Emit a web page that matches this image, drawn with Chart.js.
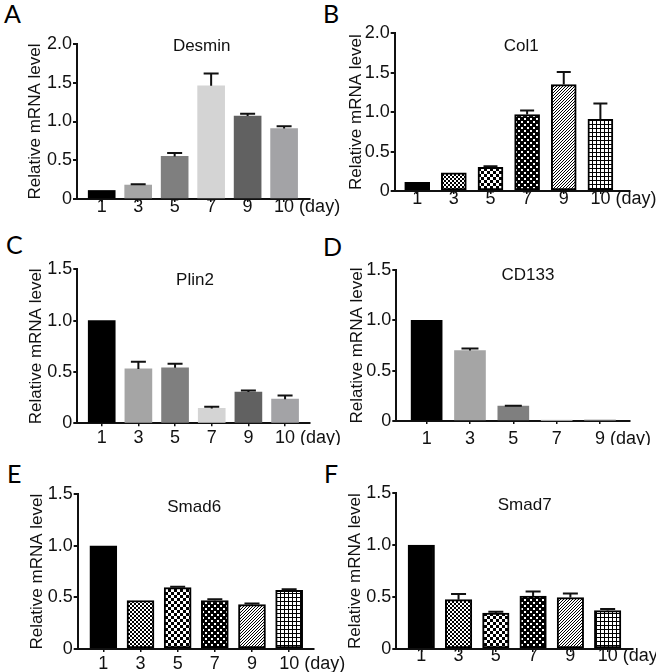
<!DOCTYPE html>
<html>
<head>
<meta charset="utf-8">
<script src="https://cdn.jsdelivr.net/npm/chart.js@4.4.1/dist/chart.umd.min.js"></script>
<style>
  body { margin: 0; background: #fff; }
  #fig { position: relative; width: 656px; height: 672px; overflow: hidden; }
  #fig canvas { position: absolute; }
  .tag { position: absolute; font-family: Lato, "Open Sans", sans-serif; font-size: 25px; line-height: 1; color: #000; }
</style>
</head>
<body>
<div id="fig">
  <div class="tag" style="left:4px;top:1px">A</div>
  <div class="tag" style="left:323px;top:1px">B</div>
  <div class="tag" style="left:6px;top:232px">C</div>
  <div class="tag" style="left:323px;top:234px">D</div>
  <div class="tag" style="left:7px;top:461px">E</div>
  <div class="tag" style="left:324px;top:461px">F</div>
  <canvas id="cA"></canvas>
  <canvas id="cB"></canvas>
  <canvas id="cC"></canvas>
  <canvas id="cD"></canvas>
  <canvas id="cE"></canvas>
  <canvas id="cF"></canvas>
</div>
<script>
// days on the x axis
const days6 = ["1", "3", "5", "7", "9", "10"];
const days5 = ["1", "3", "5", "7", "9"];

// y tick labels
const ticksTo2 = ["0", "0.5", "1.0", "1.5", "2.0"];
const ticksTo15 = ["0", "0.5", "1.0", "1.5"];

// mean values and SD
const desmin = [0.11, 0.18, 0.55, 1.46, 1.07, 0.91];
const desminSd = [0, 0.01, 0.045, 0.16, 0.03, 0.03];

const col1 = [0.11, 0.23, 0.30, 0.97, 1.35, 0.91];
const col1Sd = [0, 0, 0.015, 0.05, 0.16, 0.2];

const plin2 = [1.0, 0.53, 0.54, 0.145, 0.305, 0.235];
const plin2Sd = [0, 0.07, 0.04, 0.015, 0.015, 0.035];

const cd133 = [1.0, 0.70, 0.148, 0.005, 0.002];
const cd133Sd = [0, 0.02, 0.004, 0, 0];

const smad6 = [1.0, 0.47, 0.595, 0.47, 0.43, 0.57];
const smad6Sd = [0, 0, 0.008, 0.012, 0.012, 0.01];

const smad7 = [1.0, 0.475, 0.345, 0.51, 0.495, 0.37];
const smad7Sd = [0, 0.055, 0.015, 0.045, 0.04, 0.015];

// fills
const grays = ["#000000", "#a5a5a5", "#7f7f7f", "#d4d4d4", "#616161", "#a3a3a6"];

function pat(size, bg, draw) {
  const c = document.createElement("canvas");
  c.width = c.height = size;
  const g = c.getContext("2d");
  g.fillStyle = bg;
  g.fillRect(0, 0, size, size);
  draw(g, size);
  return g.createPattern(c, "repeat");
}

const pFine = pat(4, "#fff", (g) => {
  g.fillStyle = "#000";
  g.fillRect(0, 0, 2, 2);
  g.fillRect(2, 2, 2, 2);
});
const pCheck = pat(6, "#fff", (g) => {
  g.fillStyle = "#000";
  g.fillRect(0, 0, 3, 3);
  g.fillRect(3, 3, 3, 3);
});
// black with white dots on a diagonal lattice
const pDots = pat(6, "#000", (g) => {
  g.fillStyle = "#fff";
  g.fillRect(1, 1, 2, 2);
  g.fillRect(4, 4, 2, 2);
});
const pDiag = pat(3, "#fff", (g, s) => {
  g.fillStyle = "#000";
  for (let i = 0; i < s; i++) g.fillRect(i, s - 1 - i, 1, 1);
});
const pGrid = pat(4, "#fff", (g) => {
  g.fillStyle = "#000";
  g.fillRect(0, 0, 4, 1);
  g.fillRect(0, 0, 1, 4);
});
const patterns = ["#000000", pFine, pCheck, pDots, pDiag, pGrid];

const FONT = '"Liberation Sans", Arial, sans-serif';
Chart.defaults.font.family = FONT;
Chart.defaults.font.size = 18;
Chart.defaults.color = "#111";

// error bars (mean + SD)
const errPlugin = {
  id: "errbars",
  afterDatasetsDraw(chart, args, opts) {
    const { ctx, scales: { x, y } } = chart;
    ctx.save();
    ctx.strokeStyle = "#111";
    ctx.lineWidth = 2;
    chart.data.datasets[0].data.forEach((p, i) => {
      const sd = opts.sd[i];
      if (!sd) return;
      const px = x.getPixelForValue(p.x);
      const y0 = y.getPixelForValue(p.y);
      const y1 = y.getPixelForValue(p.y + sd);
      ctx.beginPath();
      ctx.moveTo(px, y0);
      ctx.lineTo(px, y1);
      ctx.moveTo(px - opts.cap / 2, y1);
      ctx.lineTo(px + opts.cap / 2, y1);
      ctx.stroke();
    });
    ctx.restore();
  }
};

// gene name and "(day)" after the last tick label
const textPlugin = {
  id: "paneltext",
  afterDraw(chart, args, opts) {
    const { ctx, chartArea, scales: { x } } = chart;
    ctx.save();
    ctx.fillStyle = "#111";
    ctx.textBaseline = "middle";
    ctx.textAlign = "center";
    ctx.font = "17px " + FONT;
    ctx.fillText(opts.title, chartArea.left + opts.dx, chartArea.top + opts.dy);
    ctx.font = "18px " + FONT;
    const last = opts.days.length - 1;
    const lx = x.getPixelForValue(last) + ctx.measureText(opts.days[last]).width / 2 + 5;
    ctx.textAlign = "left";
    ctx.fillText("(day)", lx, chartArea.bottom + opts.labelOff);
    ctx.restore();
  }
};

const panels = [
  { id: "cA", title: "Desmin", days: days6, values: desmin, sd: desminSd, yMax: 2, yLabels: ticksTo2,
    fill: grays, border: 0, box: [0, 0, 350, 225], axisX: 77, topY: 44, bottomY: 199, rightX: 310,
    xMin: -0.677, xMax: 5.71, bar: 27, yTitleX: 35, labelOff: 8.5, dx: 124.7, dy: 2.7 },
  { id: "cB", title: "Col1", days: days6, values: col1, sd: col1Sd, yMax: 2, yLabels: ticksTo2,
    fill: patterns, border: 2, box: [328, 0, 328, 225], axisX: 394.7, topY: 33.3, bottomY: 191, rightX: 629.7,
    xMin: -0.614, xMax: 5.8, bar: 25, yTitleX: 28.3, labelOff: 8, dx: 126.6, dy: 13.4 },
  { id: "cC", title: "Plin2", days: days6, values: plin2, sd: plin2Sd, yMax: 1.5, yLabels: ticksTo15,
    fill: grays, border: 0, box: [0, 225, 350, 220], axisX: 77.3, topY: 269.3, bottomY: 423.3, rightX: 310,
    xMin: -0.666, xMax: 5.68, bar: 27, yTitleX: 36.7, labelOff: 15, dx: 117.7, dy: 11.5 },
  { id: "cD", title: "CD133", days: days5, values: cd133, sd: cd133Sd, yMax: 1.5, yLabels: ticksTo15,
    fill: grays, border: 0, box: [328, 225, 328, 220], axisX: 396.3, topY: 270, bottomY: 421, rightX: 629.7,
    xMin: -0.70, xMax: 4.685, bar: 31, yTitleX: 29, labelOff: 18, dx: 131.7, dy: 5.8 },
  { id: "cE", title: "Smad6", days: days6, values: smad6, sd: smad6Sd, yMax: 1.5, yLabels: ticksTo15,
    fill: patterns, border: 2, box: [0, 445, 350, 227], axisX: 77.7, topY: 494.3, bottomY: 649, rightX: 313.3,
    xMin: -0.69, xMax: 5.65, bar: 27, yTitleX: 37.5, labelOff: 15, dx: 116.5, dy: 13.2 },
  { id: "cF", title: "Smad7", days: days6, values: smad7, sd: smad7Sd, yMax: 1.5, yLabels: ticksTo15,
    fill: patterns, border: 2, box: [328, 445, 328, 227], axisX: 396.3, topY: 493.3, bottomY: 649, rightX: 633,
    xMin: -0.67, xMax: 5.68, bar: 26.5, yTitleX: 27.5, labelOff: 7.5, dx: 128.4, dy: 12.5 }
];

panels.forEach((p) => {
  const cv = document.getElementById(p.id);
  const [L, T, W, H] = p.box;
  cv.width = W;
  cv.height = H;
  cv.style.left = L + "px";
  cv.style.top = T + "px";

  new Chart(cv, {
    type: "bar",
    data: {
      datasets: [{
        data: p.values.map((v, i) => ({ x: i, y: v })),
        backgroundColor: p.fill,
        borderColor: "#000",
        borderWidth: p.border,
        borderSkipped: false,
        barThickness: p.bar
      }]
    },
    options: {
      responsive: false,
      animation: false,
      layout: { padding: { top: p.topY - T, right: L + W - p.rightX, left: 0, bottom: 0 } },
      scales: {
        x: {
          type: "linear",
          offset: false,
          min: p.xMin,
          max: p.xMax,
          afterBuildTicks: (s) => { s.ticks = p.days.map((d, i) => ({ value: i })); },
          afterFit: (s) => { s.height = T + H - p.bottomY; },
          ticks: {
            autoSkip: false,
            maxRotation: 0,
            padding: p.labelOff - 3 - 9,
            font: { size: 18, lineHeight: 1 },
            callback: (v, i) => p.days[i]
          },
          grid: { offset: false, drawOnChartArea: false, tickLength: 3, color: "#111", lineWidth: 1.5 },
          border: { color: "#111", width: 2 }
        },
        y: {
          min: 0,
          max: p.yMax,
          afterFit: (s) => { s.width = p.axisX - L; },
          ticks: { stepSize: 0.5, padding: 1, callback: (v, i) => p.yLabels[i] },
          grid: { drawOnChartArea: false, tickLength: 4, color: "#111", lineWidth: 2 },
          border: { color: "#111", width: 2 },
          title: {
            display: true,
            text: "Relative mRNA level",
            font: { size: 17, lineHeight: 1.2 },
            padding: { top: p.yTitleX - 10.2, bottom: 0 }
          }
        }
      },
      plugins: {
        legend: { display: false },
        tooltip: { enabled: false },
        errbars: { sd: p.sd, cap: Math.round(p.bar * 0.55) },
        paneltext: { title: p.title, days: p.days, labelOff: p.labelOff, dx: p.dx, dy: p.dy }
      }
    },
    plugins: [errPlugin, textPlugin]
  });
});
</script>
</body>
</html>
